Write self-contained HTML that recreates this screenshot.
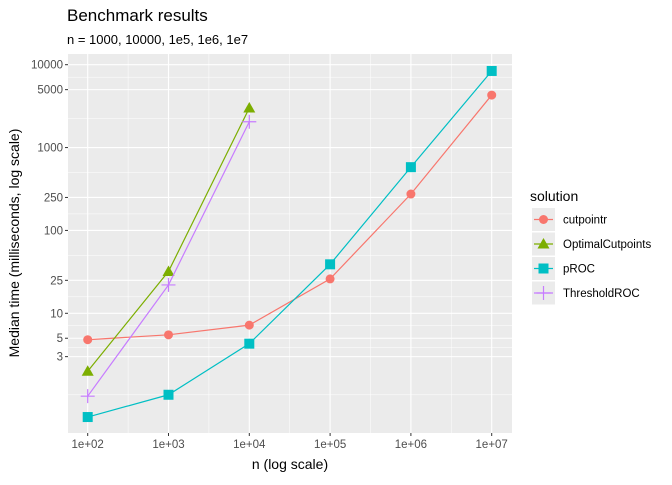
<!DOCTYPE html>
<html><head><meta charset="utf-8"><style>
body{margin:0;background:#fff;font-family:"Liberation Sans",sans-serif}
text{font-family:"Liberation Sans",sans-serif}
</style></head><body>
<svg id="c" width="672" height="480">
<text x="67" y="21" font-size="17" fill="#000">Benchmark results</text>
<text x="67" y="44" font-size="13" fill="#000">n = 1000, 10000, 1e5, 1e6, 1e7</text>
<g id="plot"></g>
<text x="290" y="469" font-size="14" text-anchor="middle">n (log scale)</text>
<text transform="translate(19,243) rotate(-90)" font-size="14" text-anchor="middle">Median time (milliseconds, log scale)</text>
<text x="530" y="201" font-size="14">solution</text>
<g id="legend"></g>
</svg>
<script>
const nValues=[100,1000,10000,100000,1000000,10000000];
const xTickLabels=["1e+02","1e+03","1e+04","1e+05","1e+06","1e+07"];
const yBreaks=[3,5,10,25,100,250,1000,5000,10000];
const seriesNames=["cutpointr","OptimalCutpoints","pROC","ThresholdROC"];
const cutpointr=[4.8,5.5,7.2,26,275,4300];
const optimalCutpoints=[2.0,32,3000];
const pROC=[0.56,1.04,4.3,39,580,8400];
const thresholdROC=[1.0,22,2050];
const colors=["#F8766D","#7CAE00","#00BFC4","#C77CFF"];
const shapes=["circle","triangle","square","plus"];
const NS="http://www.w3.org/2000/svg";
const L=68,R=512,T=54,B=433;
const X=v=>87.7+(Math.log10(v)-2)*80.8;
const Y=v=>313.3-(Math.log10(v)-1)*82.87;
const g=document.getElementById('plot');
function el(t,a,p){const e=document.createElementNS(NS,t);for(const k in a)e.setAttribute(k,a[k]);(p||g).appendChild(e);return e;}
const bg=el('rect',{x:L,y:T,width:R-L,height:B-T,fill:'#EBEBEB'});


// minor grid
const lb=[Math.pow(10,1-(B-313.3)/82.87)].concat(yBreaks);
for(let i=0;i<lb.length-1;i++){const m=Math.sqrt(lb[i]*lb[i+1]);const y=Y(m);
const ln=el('line',{x1:L,x2:R,y1:y,y2:y,stroke:'#fff','stroke-width':0.5});

}
for(let i=0;i<nValues.length-1;i++){const x=(X(nValues[i])+X(nValues[i+1]))/2;
const ln=el('line',{x1:x,x2:x,y1:T,y2:B,stroke:'#fff','stroke-width':0.5});

}
yBreaks.forEach(b=>{const y=Y(b);
const ln=el('line',{x1:L,x2:R,y1:y,y2:y,stroke:'#fff','stroke-width':1.1});


el('line',{x1:L-3,x2:L,y1:y,y2:y,stroke:'#333'});
const t=el('text',{x:L-5,y:y+4,'font-size':11.5,'text-anchor':'end',fill:'#4D4D4D'});t.textContent=b;

});
nValues.forEach((n,i)=>{const x=X(n);
const ln=el('line',{x1:x,x2:x,y1:T,y2:B,stroke:'#fff','stroke-width':1.1});


el('line',{x1:x,x2:x,y1:B,y2:B+3,stroke:'#333'});
const t=el('text',{x:x,y:B+15,'font-size':11.5,'text-anchor':'middle',fill:'#4D4D4D'});t.textContent=xTickLabels[i];

});
function marker(shape,x,y,c,p,s){s=s||1;
if(shape==='circle')return el('circle',{cx:x,cy:y,r:4.5*s,fill:c},p);
if(shape==='triangle')return el('polygon',{points:`${x},${y-6*s} ${x-6*s},${y+4.5*s} ${x+6*s},${y+4.5*s}`,fill:c},p);
if(shape==='square')return el('rect',{x:x-5*s,y:y-5*s,width:10*s,height:10*s,fill:c},p);
return el('path',{d:`M${x-7*s},${y}H${x+7*s}M${x},${y-7*s}V${y+7*s}`,stroke:c,'stroke-width':1.2,fill:'none'},p);}
const data=[cutpointr,optimalCutpoints,pROC,thresholdROC];
data.forEach((vals,si)=>{
const pts=vals.map((v,i)=>[X(nValues[i]),Y(v)]);
const pl=el('polyline',{points:pts.map(p=>p.join(',')).join(' '),fill:'none',stroke:colors[si],'stroke-width':1.2});


pts.forEach(p=>{const m=marker(shapes[si],p[0],p[1],colors[si]);

});
});
const lg=document.getElementById('legend');
seriesNames.forEach((nm,i)=>{const y=219+i*24.5;
const k=el('rect',{x:532,y:y-11,width:23,height:23,fill:'#EBEBEB'},lg);


el('line',{x1:534,x2:553,y1:y+0.5,y2:y+0.5,stroke:colors[i],'stroke-width':1.2},lg);
marker(shapes[i],543.5,y+0.5,colors[i],lg);
const t=el('text',{x:563,y:y+4.5,'font-size':11.5,fill:'#000'},lg);t.textContent=nm;

});
</script>
</body></html>
